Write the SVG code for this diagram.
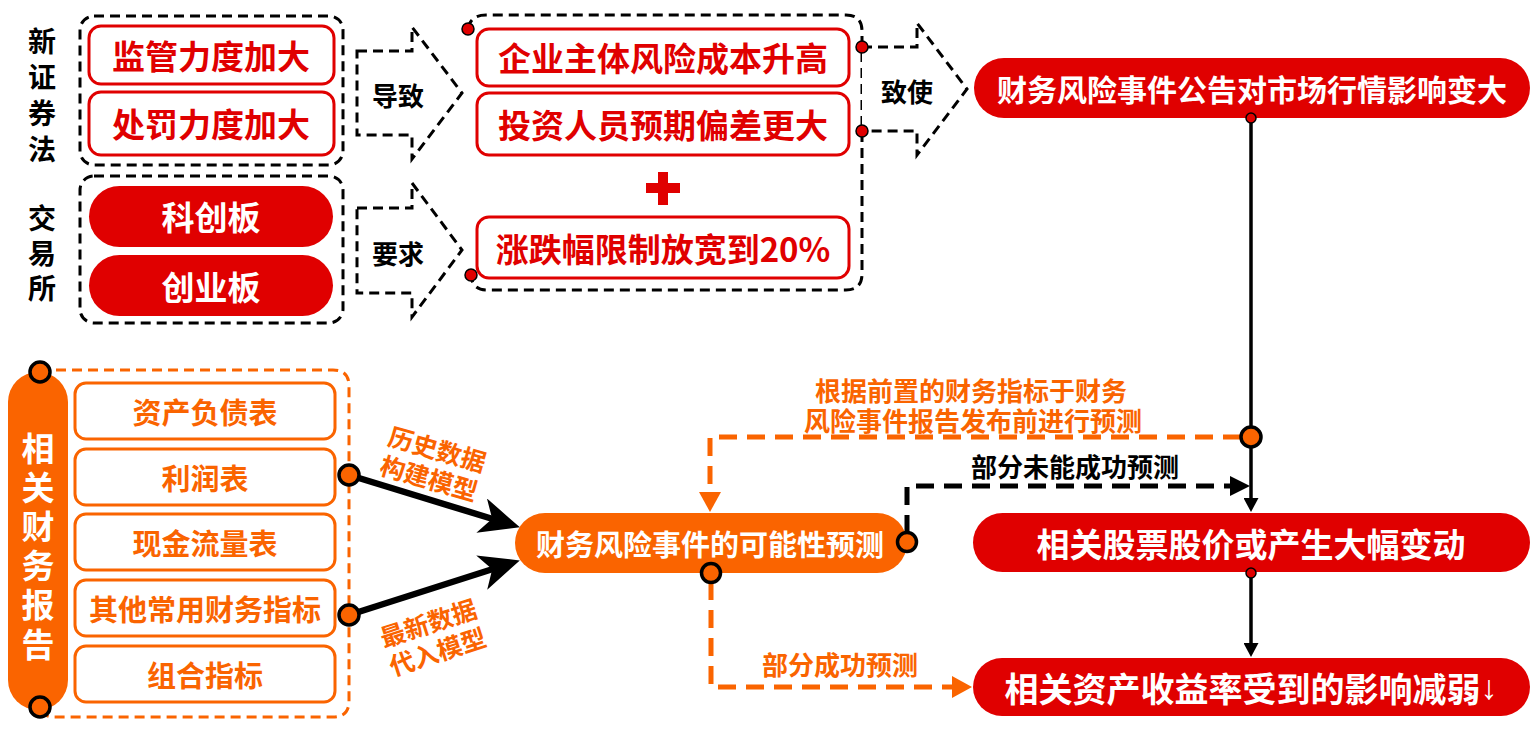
<svg xmlns="http://www.w3.org/2000/svg" width="1539" height="729" viewBox="0 0 1539 729">
<defs>
<style>
.t{font-family:"Noto Sans CJK SC","Noto Sans",sans-serif;font-weight:700;text-anchor:middle;dominant-baseline:central}
.bk{fill:#000}
.wt{fill:#fff}
.rd{fill:#E00000}
.or{fill:#FA6400}
.rbox{fill:#fff;stroke:#E00000;stroke-width:3}
.obox{fill:#fff;stroke:#FA6400;stroke-width:3}
.rpill{fill:#E00000}
.opill{fill:#FA6400}
.dgrp{fill:none;stroke:#000;stroke-width:3;stroke-dasharray:10 6}
.ogrp{fill:none;stroke:#FA6400;stroke-width:3;stroke-dasharray:10 6}
.darrow{fill:#fff;stroke:#000;stroke-width:3;stroke-dasharray:10 6}
.rdot{fill:#E00000;stroke:#000;stroke-width:1.5}
.odot{fill:#FA6400;stroke:#000;stroke-width:3.5}
.thick{fill:none;stroke:#000;stroke-width:6.5}
.thin{fill:none;stroke:#000;stroke-width:3.5}
.odash{fill:none;stroke:#FA6400;stroke-width:5;stroke-dasharray:18 10}
.kdash{fill:none;stroke:#000;stroke-width:5;stroke-dasharray:18 10}
</style>
<marker id="stealth" markerUnits="userSpaceOnUse" markerWidth="40" markerHeight="36" refX="15" refY="18" orient="auto"><path d="M0,0 L40,18 L0,36 L11,18 Z" fill="#000"/></marker>
<marker id="tri" markerUnits="userSpaceOnUse" markerWidth="15" markerHeight="15" refX="0" refY="7.5" orient="auto"><path d="M0,0 L14,7.5 L0,15 Z" fill="#000"/></marker>
<marker id="otri" markerUnits="userSpaceOnUse" markerWidth="20" markerHeight="22" refX="0" refY="11" orient="auto"><path d="M0,0 L20,11 L0,22 Z" fill="#FA6400"/></marker>
<marker id="ktri" markerUnits="userSpaceOnUse" markerWidth="20" markerHeight="20" refX="0" refY="10" orient="auto"><path d="M0,0 L20,10 L0,20 Z" fill="#000"/></marker>
</defs>
<rect width="1539" height="729" fill="#fff"/>

<!-- side labels -->
<g id="label-securities-law" class="t bk" font-size="28">
<text x="42" y="40">新</text><text x="42" y="76">证</text><text x="42" y="112">券</text><text x="42" y="148">法</text>
</g>
<g id="label-exchange" class="t bk" font-size="28">
<text x="42" y="217">交</text><text x="42" y="252">易</text><text x="42" y="287">所</text>
</g>

<!-- group 1 -->
<g id="group-law">
<rect class="dgrp" x="80" y="16" width="263" height="149" rx="14"/>
</g>
<g id="node-supervision">
<rect class="rbox" x="89" y="26" width="245" height="58" rx="12"/>
<text class="t rd" x="211" y="55" font-size="33">监管力度加大</text>
</g>
<g id="node-penalty">
<rect class="rbox" x="89" y="92" width="245" height="63" rx="12"/>
<text class="t rd" x="211" y="123" font-size="33">处罚力度加大</text>
</g>

<!-- group 2 -->
<g id="group-exchange">
<rect class="dgrp" x="80" y="176" width="263" height="147" rx="14"/>
</g>
<g id="node-star">
<rect class="rpill" x="89" y="186" width="244" height="61" rx="30.5"/>
<text class="t wt" x="211" y="216" font-size="33">科创板</text>
</g>
<g id="node-gem">
<rect class="rpill" x="89" y="255" width="244" height="61" rx="30.5"/>
<text class="t wt" x="211" y="286" font-size="33">创业板</text>
</g>

<!-- middle group -->
<g id="group-effects">
<path class="dgrp" d="M468,29 Q470,15 486,15 H846 Q862,15 862,31 V274 Q862,290 846,290 H487 Q472,290 471,275"/>
</g>
<g id="node-cost">
<rect class="rbox" x="477" y="29" width="372" height="57" rx="12"/>
<text class="t rd" x="663" y="57" font-size="33">企业主体风险成本升高</text>
</g>
<g id="node-bias">
<rect class="rbox" x="477" y="93" width="372" height="62" rx="12"/>
<text class="t rd" x="663" y="124" font-size="33">投资人员预期偏差更大</text>
</g>
<g id="node-plus">
<rect class="rd" x="646" y="183" width="34" height="10"/>
<rect class="rd" x="658" y="172" width="10" height="33"/>
</g>
<g id="node-limit">
<rect class="rbox" x="477" y="217" width="372" height="61" rx="12"/>
<text class="t rd" x="663" y="248" font-size="33">涨跌幅限制放宽到20%</text>
</g>

<!-- right column -->
<g id="node-announce">
<rect class="rpill" x="974" y="58" width="556" height="60" rx="30"/>
<text class="t wt" x="1252" y="88" font-size="30">财务风险事件公告对市场行情影响变大</text>
</g>
<g id="node-price">
<rect class="rpill" x="973" y="513" width="557" height="59" rx="29.5"/>
<text class="t wt" x="1251" y="543" font-size="33">相关股票股价或产生大幅变动</text>
</g>
<g id="node-return">
<rect class="rpill" x="973" y="658" width="557" height="58" rx="29"/>
<text class="t wt" x="1251" y="687" font-size="34">相关资产收益率受到的影响减弱<tspan font-family="'Liberation Sans',sans-serif">↓</tspan></text>
</g>

<!-- bottom-left -->
<g id="group-reports">
<path class="ogrp" d="M40,370 H333 Q349,370 349,386 V701 Q349,717 333,717 H54 Q42,717 40,707"/>
</g>
<g id="node-reports">
<rect class="opill" x="8" y="372" width="60" height="338" rx="30"/>
<g class="t wt" font-size="33">
<text x="38" y="447">相</text><text x="38" y="486">关</text><text x="38" y="525">财</text><text x="38" y="564">务</text><text x="38" y="603">报</text><text x="38" y="643">告</text>
</g>
</g>
<g id="node-balance">
<rect class="obox" x="75" y="383" width="260" height="56" rx="11"/>
<text class="t or" x="205" y="411" font-size="29">资产负债表</text>
</g>
<g id="node-income">
<rect class="obox" x="75" y="449" width="260" height="56" rx="11"/>
<text class="t or" x="205" y="477" font-size="29">利润表</text>
</g>
<g id="node-cashflow">
<rect class="obox" x="75" y="514" width="260" height="56" rx="11"/>
<text class="t or" x="205" y="542" font-size="29">现金流量表</text>
</g>
<g id="node-other">
<rect class="obox" x="75" y="580" width="260" height="56" rx="11"/>
<text class="t or" x="205" y="608" font-size="29">其他常用财务指标</text>
</g>
<g id="node-combined">
<rect class="obox" x="75" y="646" width="260" height="56" rx="11"/>
<text class="t or" x="205" y="674" font-size="29">组合指标</text>
</g>

<g id="node-predict">
<rect class="opill" x="515" y="513" width="392" height="60" rx="30"/>
<text class="t wt" x="710" y="543" font-size="29">财务风险事件的可能性预测</text>
</g>

<!-- connectors -->
<g id="connectors">
<polygon class="darrow" points="357,51 412,51 412,27 462,93 412,159 412,135 357,135"/>
<text class="t bk" x="398" y="94" font-size="26">导致</text>
<polygon class="darrow" points="357,208 412,208 412,183 462,250 412,317 412,293 357,293"/>
<text class="t bk" x="398" y="252" font-size="26">要求</text>
<path class="darrow" d="M862,47 H917 V23 L967,89 L917,155 V131 H862"/>
<text class="t bk" x="907" y="90" font-size="26">致使</text>

<circle class="rdot" cx="468" cy="29" r="6"/>
<circle class="rdot" cx="471" cy="275" r="6"/>
<circle class="rdot" cx="862" cy="47" r="6"/>
<circle class="rdot" cx="862" cy="131" r="6"/>

<path class="thick" d="M349,475 L496,520" marker-end="url(#stealth)"/>
<path class="thick" d="M349,615 L496,568" marker-end="url(#stealth)"/>
<g class="t or" font-size="25">
<g transform="translate(433.5,462.5) rotate(16)"><text x="0" y="-15">历史数据</text><text x="0" y="15">构建模型</text></g>
<g transform="translate(432.5,636) rotate(-18)"><text x="0" y="-15">最新数据</text><text x="0" y="15">代入模型</text></g>
</g>
<circle class="odot" cx="349" cy="475" r="10"/>
<circle class="odot" cx="349" cy="615" r="10"/>
<circle class="odot" cx="40" cy="372" r="10"/>
<circle class="odot" cx="40" cy="707" r="10"/>

<path class="thin" d="M1251,118 V498" marker-end="url(#tri)"/>
<path class="thin" d="M1251,573 V643" marker-end="url(#tri)"/>
<circle class="rdot" cx="1251" cy="118" r="5"/>
<circle class="rdot" cx="1251" cy="573" r="5"/>

<path class="odash" d="M1241,437 H710 V492" marker-end="url(#otri)"/>
<text class="t or" x="971" y="389" font-size="26">根据前置的财务指标于财务</text>
<text class="t or" x="973" y="419" font-size="26">风险事件报告发布前进行预测</text>
<circle class="odot" cx="1251" cy="437" r="10"/>

<path class="kdash" d="M907,533 V486 H1230" marker-end="url(#ktri)"/>
<text class="t bk" x="1075" y="465" font-size="26">部分未能成功预测</text>

<path class="odash" d="M711,582 V687 H952" marker-end="url(#otri)"/>
<text class="t or" x="840" y="663" font-size="26">部分成功预测</text>

<circle class="odot" cx="907" cy="542" r="9.5"/>
<circle class="odot" cx="711" cy="573" r="9.5"/>
</g>
</svg>
